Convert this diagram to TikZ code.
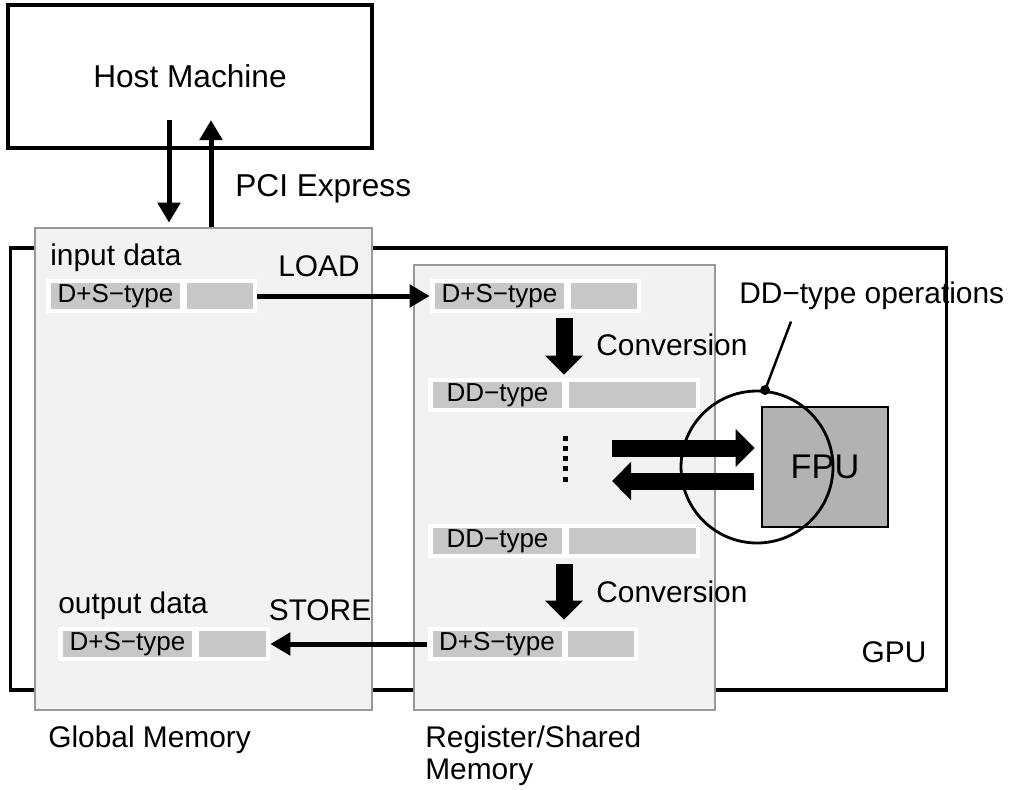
\documentclass[tikz,border=0pt]{standalone}
\usepackage{fontspec}
\setmainfont{Liberation Sans}
\usetikzlibrary{arrows.meta,positioning,calc}

\begin{document}
\begin{tikzpicture}[x=0.02cm, y=-0.02cm,
  txt/.style={inner sep=0pt, font=\fontsize{17}{18.7}\selectfont},
  box/.style={rectangle, draw, line width=1.8pt},
  mem/.style={rectangle, draw=black!40, fill=black!5, line width=1.6pt},
  cellrow/.style={rectangle, fill=white, minimum height=0.68cm, inner sep=0pt},
  lbl/.style={rectangle, fill=black!22, minimum height=0.52cm, minimum width=2.58cm, inner sep=0pt, font=\fontsize{14.8}{16}\selectfont},
  slot/.style={rectangle, fill=black!22, minimum height=0.52cm, inner sep=0pt},
  thin/.style={line width=0.1cm, -{Triangle[length=0.4cm, width=0.44cm]}},
  fat/.style={line width=0.34cm, -{Triangle[length=0.38cm, width=0.74cm]}}]
  \useasboundingbox (0,0) rectangle (1011,789);

  \node (host) at (190,76.5) [box, minimum width=7.28cm, minimum height=2.86cm, font=\fontsize{18}{21}\selectfont] {Host Machine};
  \node (gpu) at (478.5,469) [box, minimum width=18.74cm, minimum height=8.84cm] {};
  \node (gpulbl) at (894,662) [txt, anchor=base] {GPU};

  \node (glob) at (203.5,469) [mem, minimum width=6.74cm, minimum height=9.64cm] {};
  \node (reg) at (564.5,487.5) [mem, minimum width=6.02cm, minimum height=8.9cm] {};
  \node (globlbl) at (48,747) [txt, anchor=base west] {Global Memory};
  \node (reglbl) at (425,725) [txt, anchor=north west, align=left] {Register/Shared\\Memory};

  % global memory
  \node (inlbl) at (50,265) [txt, anchor=base west] {input data};
  \node (gin) at (151.5,296) [cellrow, minimum width=4.22cm] {};
  \node (ginl) [lbl, anchor=west] at ([xshift=0.1cm]gin.west) {D+S−type};
  \node (gins) [slot, right=0.12cm of ginl, minimum width=1.32cm] {};
  \node (outlbl) at (58,613) [txt, anchor=base west] {output data};
  \node (gout) at (164,644) [cellrow, minimum width=4.24cm] {};
  \node (goutl) [lbl, anchor=west] at ([xshift=0.1cm]gout.west) {D+S−type};
  \node (gouts) [slot, right=0.12cm of goutl, minimum width=1.34cm] {};

  % register / shared memory
  \node (rin) at (535.5,296) [cellrow, minimum width=4.22cm] {};
  \node (rinl) [lbl, anchor=west] at ([xshift=0.1cm]rin.west) {D+S−type};
  \node (rins) [slot, right=0.12cm of rinl, minimum width=1.32cm] {};
  \node (dd1) at (564,395) [cellrow, minimum width=5.44cm] {};
  \node (dd1l) [lbl, anchor=west] at ([xshift=0.1cm]dd1.west) {DD−type};
  \node (dd1s) [slot, right=0.12cm of dd1l, minimum width=2.54cm] {};
  \node (dd2) at (564,541) [cellrow, minimum width=5.44cm] {};
  \node (dd2l) [lbl, anchor=west] at ([xshift=0.1cm]dd2.west) {DD−type};
  \node (dd2s) [slot, right=0.12cm of dd2l, minimum width=2.54cm] {};
  \node (rout) at (533,644) [cellrow, minimum width=4.22cm] {};
  \node (routl) [lbl, anchor=west] at ([xshift=0.1cm]rout.west) {D+S−type};
  \node (routs) [slot, right=0.12cm of routl, minimum width=1.32cm] {};
  \foreach \k in {0,...,4}
    \fill (562.5,435.5+10.25*\k) rectangle ++(5,5);

  \node (conv1) at (596,355) [txt, anchor=base west] {Conversion};
  \node (conv2) at (596,602) [txt, anchor=base west] {Conversion};
  \coordinate (cx) at (564,0);
  \draw[fat] ([yshift=-0.1cm]rin.south -| cx) -- ([yshift=0.06cm]dd1.north -| cx);
  \draw[fat] ([yshift=-0.12cm]dd2.south -| cx) -- ([yshift=0.14cm]rout.north -| cx);

  \node (loadlbl) at (319,276) [txt, anchor=base] {LOAD};
  \node (storelbl) at (320,620) [txt, anchor=base] {STORE};
  \draw[thin] (gin) -- (rin);
  \draw[thin] (rout) -- (gout);

  % host link
  \node (pcilbl) at (235,196) [txt, anchor=base west, font=\fontsize{18}{21}\selectfont] {PCI Express};
  \coordinate (pcidn) at (169,120);
  \coordinate (pciup) at (211,120);
  \draw[thin, shorten >=0.08cm] (pcidn) -- (pcidn |- glob.north);
  \draw[thin] (pciup |- glob.north) -- (pciup);

  % FPU
  \node (fpu) at (825,467) [rectangle, draw, line width=1.6pt, fill=black!30, minimum width=2.52cm, minimum height=2.4cm, font=\fontsize{19.5}{22}\selectfont] {FPU};
  \node (ring) at (757,467) [circle, draw, line width=1.6pt, minimum size=3.04cm, inner sep=0pt] {};
  \node (opslbl) at (739,303) [txt, anchor=base west] {DD−type operations};
  \fill (ring.84) circle (0.1cm);
  \draw[line width=1.4pt] (ring.84) -- ($(opslbl.south west)+(52,12)$);
  \coordinate (opsin) at (612,448);
  \coordinate (opsout) at (612,481);
  \draw[fat, shorten >=0.12cm] (opsin) -- (opsin -| fpu.west);
  \draw[fat] ([xshift=-0.14cm]opsout -| fpu.west) -- (opsout);
\end{tikzpicture}
\end{document}
